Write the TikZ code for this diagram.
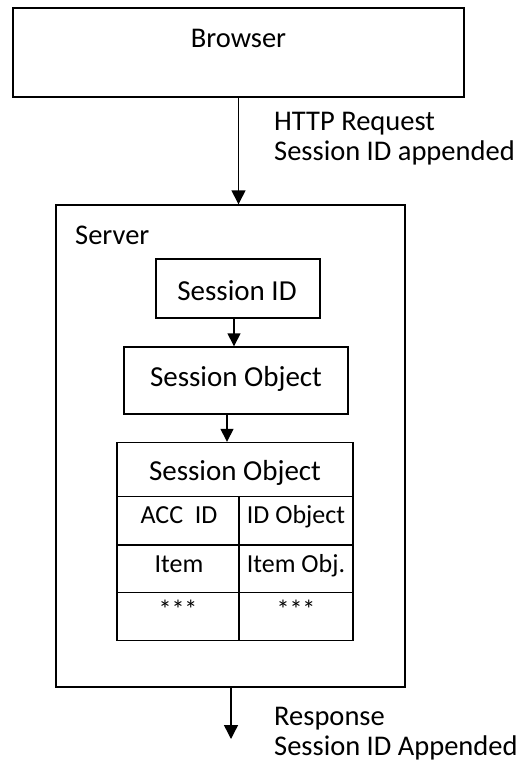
\documentclass[tikz,border=0pt]{standalone}
\usepackage{fontspec}
\setmainfont{Carlito}
\usetikzlibrary{arrows.meta}
\begin{document}
\begin{tikzpicture}[x=1pt,y=-1pt,
  box/.style={draw=black,line width=1.4pt,rectangle,inner sep=0pt,fill=white},
  txt/.style={inner sep=0pt,anchor=base,font=\fontsize{28.5}{34}\selectfont},
  cell/.style={inner sep=0pt,anchor=base,font=\fontsize{26}{31}\selectfont},
  big/.style={inner sep=0pt,anchor=base,font=\fontsize{29}{35}\selectfont},
  lft/.style={inner sep=0pt,anchor=base west,font=\fontsize{28.5}{34}\selectfont},
  arr/.style={line width=1.4pt,-{Triangle[width=14pt,length=14pt]}},
  arrs/.style={line width=1.4pt,-{Triangle[width=13pt,length=13pt]}},
  rule/.style={line width=1.4pt}]
\useasboundingbox (0,0) rectangle (524,766);
% Browser
\node[box,minimum width=451pt,minimum height=89pt] (browser) at (238.5,52.5) {};
\node[txt] (browsert) at (238.5,47) {Browser};
% Server
\node[box,minimum width=349pt,minimum height=482pt] (server) at (230.5,446) {};
\node[lft] (servert) at (75,244) {Server};
% Session ID
\node[box,minimum width=164pt,minimum height=59pt] (sid) at (238,288.5) {};
\node[big] (sidt) at (237,300) {Session ID};
% Session Object
\node[box,minimum width=224pt,minimum height=67pt] (sobj) at (236,380.5) {};
\node[big] (sobjt) at (236,386) {Session Object};
% Table
\node[box,minimum width=236pt,minimum height=198pt] (tab) at (235,541.5) {};
\coordinate (h1) at (117,496.5);
\coordinate (h2) at (353,496.5);
\coordinate (r1a) at (117,545);
\coordinate (r1b) at (353,545);
\coordinate (r2a) at (117,592.5);
\coordinate (r2b) at (353,592.5);
\coordinate (vt) at (239,496.5);
\coordinate (vb) at (239,640.5);
\draw[rule] (h1) -- (h2);
\draw[rule] (r1a) -- (r1b);
\draw[rule] (r2a) -- (r2b);
\draw[rule] (vt) -- (vb);
\node[big] (tabt) at (235,480) {Session Object};
\node[cell] (c11) at (179,523) {ACC\ \ ID};
\node[cell] (c12) at (296,523) {ID Object};
\node[cell] (c21) at (179,572) {Item};
\node[cell] (c22) at (296,572) {Item Obj.};
\node[cell] (c31) at (178,618) {***};
\node[cell] (c32) at (296,618) {***};
% Arrows
\draw[arr] (browser.south) -- (browser.south |- server.north);
\draw[arrs] ([xshift=-4pt]sid.south) -- ([xshift=-4pt]sid.south |- sobj.north);
\draw[arrs] ([xshift=-9pt]sobj.south) -- ([xshift=-9pt]sobj.south |- tab.north);
\coordinate (out) at (231,739);
\draw[arr] (server.south -| out) -- (out);
% Labels
\node[lft] (req1) at (274,130) {HTTP Request};
\node[lft] (req2) at (274,160) {Session ID appended};
\node[lft] (res1) at (274,725) {Response};
\node[lft] (res2) at (274,755) {Session ID Appended};
\end{tikzpicture}
\end{document}
